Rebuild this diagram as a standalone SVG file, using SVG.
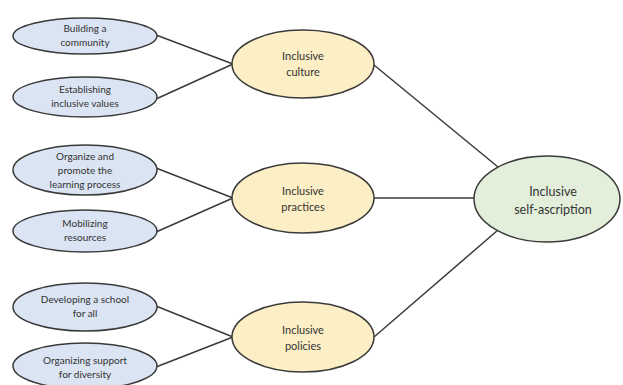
<svg xmlns="http://www.w3.org/2000/svg" width="623" height="385" viewBox="0 0 623 385">
<style>
.n ellipse{stroke:#3a3a3a;stroke-width:1.5}
.b ellipse{fill:#dae4f2}
.y ellipse{fill:#fcefc6}
.g ellipse{fill:#e3efdb}
text{font-family:Lato,"Open Sans","Liberation Sans",sans-serif;fill:#333;text-anchor:middle}
.b text{font-size:10px}
.y text{font-size:11px}
.g text{font-size:12.5px}
#edges line{stroke:#3a3a3a;stroke-width:1.5}
</style>
<rect width="623" height="385" fill="#fff"/>
<g id="edges">
<line x1="156" y1="35" x2="233" y2="64"/>
<line x1="156" y1="99" x2="233" y2="64"/>
<line x1="156" y1="168" x2="233" y2="198"/>
<line x1="156" y1="232" x2="233" y2="198"/>
<line x1="156" y1="306" x2="233" y2="337"/>
<line x1="156" y1="367" x2="233" y2="337"/>
<line x1="374" y1="65" x2="498" y2="167"/>
<line x1="374" y1="198" x2="475" y2="198"/>
<line x1="374" y1="337" x2="498" y2="230"/>
</g>
<g id="n1" class="n b"><ellipse cx="85" cy="36" rx="72" ry="18"/><text x="85" y="32">Building a</text><text x="85" y="46">community</text></g>
<g id="n2" class="n b"><ellipse cx="85" cy="97" rx="72" ry="20"/><text x="85" y="93">Establishing</text><text x="85" y="107">inclusive values</text></g>
<g id="n3" class="n b"><ellipse cx="85" cy="170" rx="72" ry="25"/><text x="85" y="160">Organize and</text><text x="85" y="174">promote the</text><text x="85" y="188">learning process</text></g>
<g id="n4" class="n b"><ellipse cx="85" cy="231" rx="72" ry="21"/><text x="85" y="227">Mobilizing</text><text x="85" y="241">resources</text></g>
<g id="n5" class="n b"><ellipse cx="85" cy="307" rx="72" ry="24"/><text x="85" y="303">Developing a school</text><text x="85" y="317">for all</text></g>
<g id="n6" class="n b"><ellipse cx="85" cy="366" rx="72" ry="23"/><text x="85" y="364">Organizing support</text><text x="85" y="378">for diversity</text></g>
<g id="c1" class="n y"><ellipse cx="303" cy="64" rx="71" ry="34"/><text x="303" y="60">Inclusive</text><text x="303" y="76">culture</text></g>
<g id="c2" class="n y"><ellipse cx="303" cy="198" rx="71" ry="35"/><text x="303" y="195">Inclusive</text><text x="303" y="211">practices</text></g>
<g id="c3" class="n y"><ellipse cx="303" cy="337" rx="71" ry="35"/><text x="303" y="334">Inclusive</text><text x="303" y="350">policies</text></g>
<g id="t" class="n g"><ellipse cx="547" cy="199" rx="73" ry="43"/><text x="553" y="196">Inclusive</text><text x="553" y="214">self-ascription</text></g>
</svg>
